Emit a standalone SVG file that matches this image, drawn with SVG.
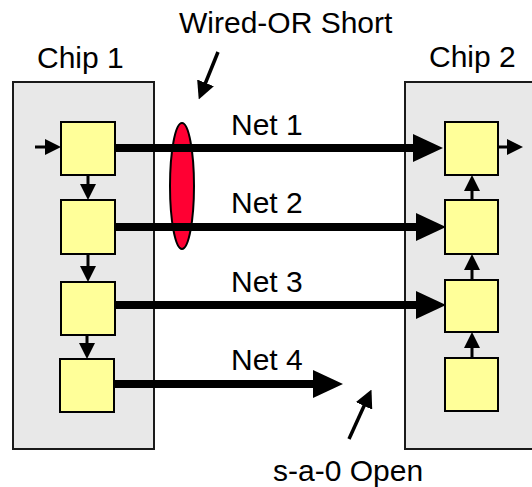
<svg xmlns="http://www.w3.org/2000/svg" width="532" height="487" viewBox="0 0 532 487">
<style>
.chip{fill:#E8E8E8;stroke:#1a1a1a;stroke-width:2}
.blk{fill:#FFFF99;stroke:#000;stroke-width:2}
.lbl{font-family:"Liberation Sans",Arial,sans-serif;font-size:30px;fill:#000}
.net{stroke:#000;stroke-width:8;fill:none}
.sm{stroke:#000;stroke-width:3;fill:none}
.call{stroke:#000;stroke-width:3.5;fill:none}
</style>
<defs>
<marker id="big" markerUnits="userSpaceOnUse" viewBox="0 0 30 28" refX="6" refY="14" markerWidth="30" markerHeight="28" orient="auto">
<path d="M0,0 L30,14 L0,28 Z" fill="#000"/>
</marker>
<marker id="small" markerUnits="userSpaceOnUse" viewBox="0 0 16 16" refX="12" refY="8" markerWidth="16" markerHeight="16" orient="auto">
<path d="M0,0 L16,8 L0,16 Z" fill="#000"/>
</marker>
<marker id="callout" markerUnits="userSpaceOnUse" viewBox="0 0 18 18" refX="12" refY="9" markerWidth="18" markerHeight="18" orient="auto">
<path d="M0,0 L18,9 L0,18 Z" fill="#000"/>
</marker>
</defs>
<g id="chip1">
<rect class="chip" x="13" y="82" width="141" height="367"/>
<text class="lbl" x="37" y="68">Chip 1</text>
</g>
<g id="chip2">
<rect class="chip" x="405" y="82" width="140" height="367"/>
<text class="lbl" x="429" y="67">Chip 2</text>
</g>
<g id="c1b1"><rect class="blk" x="61" y="122" width="54" height="53"/></g>
<g id="c1b2"><rect class="blk" x="61" y="200" width="54" height="54"/></g>
<g id="c1b3"><rect class="blk" x="61" y="282" width="54" height="53"/></g>
<g id="c1b4"><rect class="blk" x="60" y="359" width="54" height="53"/></g>
<g id="c2b1"><rect class="blk" x="445" y="122" width="53" height="53"/></g>
<g id="c2b2"><rect class="blk" x="445" y="200" width="53" height="54"/></g>
<g id="c2b3"><rect class="blk" x="445" y="280" width="53" height="52"/></g>
<g id="c2b4"><rect class="blk" x="445" y="358" width="53" height="53"/></g>
<g id="short">
<ellipse cx="182" cy="186" rx="12" ry="63" fill="#FF0033" stroke="#000" stroke-width="2"/>
</g>
<g id="labels">
<text class="lbl" x="179" y="33">Wired-OR Short</text>
<text class="lbl" x="231" y="135">Net 1</text>
<text class="lbl" x="231" y="213">Net 2</text>
<text class="lbl" x="231" y="292">Net 3</text>
<text class="lbl" x="231" y="370">Net 4</text>
<text class="lbl" x="273" y="481">s-a-0 Open</text>
</g>
<g id="connectors">
<line class="net" x1="115" y1="148" x2="419" y2="148" marker-end="url(#big)"/>
<line class="net" x1="115" y1="227" x2="422" y2="227" marker-end="url(#big)"/>
<line class="net" x1="115" y1="305" x2="422" y2="305" marker-end="url(#big)"/>
<line class="net" x1="114" y1="384" x2="319" y2="384" marker-end="url(#big)"/>
<line class="sm" x1="35" y1="147" x2="57" y2="147" marker-end="url(#small)"/>
<line class="sm" x1="88" y1="175" x2="88" y2="196" marker-end="url(#small)"/>
<line class="sm" x1="88" y1="254" x2="88" y2="278" marker-end="url(#small)"/>
<line class="sm" x1="87" y1="335" x2="87" y2="355" marker-end="url(#small)"/>
<line class="sm" x1="498" y1="147" x2="519" y2="147" marker-end="url(#small)"/>
<line class="sm" x1="472" y1="200" x2="472" y2="179" marker-end="url(#small)"/>
<line class="sm" x1="472" y1="280" x2="472" y2="258" marker-end="url(#small)"/>
<line class="sm" x1="472" y1="358" x2="472" y2="336" marker-end="url(#small)"/>
<line class="call" x1="218" y1="52" x2="201" y2="94" marker-end="url(#callout)"/>
<line class="call" x1="349" y1="439" x2="369" y2="395" marker-end="url(#callout)"/>
</g>
</svg>
